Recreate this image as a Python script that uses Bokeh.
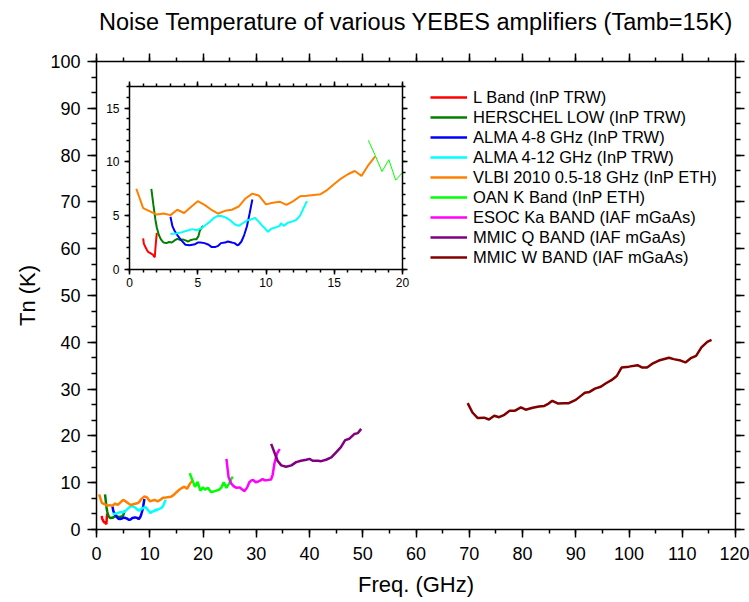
from bokeh.plotting import figure
from bokeh.models import Range1d, LinearAxis, SingleIntervalTicker, CustomLabelingPolicy
from bokeh.layouts import column
from bokeh.embed import file_html
from bokeh.resources import INLINE

FONT = "Liberation Sans"

title_text = "Noise Temperature of various YEBES amplifiers (Tamb=15K)"
x_label = "Freq. (GHz)"
y_label = "Tn (K)"

names = [
    "L Band (InP TRW)",
    "HERSCHEL LOW (InP TRW)",
    "ALMA 4-8 GHz (InP TRW)",
    "ALMA 4-12 GHz (InP TRW)",
    "VLBI 2010 0.5-18 GHz (InP ETH)",
    "OAN K Band (InP ETH)",
    "ESOC Ka BAND (IAF mGaAs)",
    "MMIC Q BAND (IAF mGaAs)",
    "MMIC W BAND (IAF mGaAs)",
]
colors = ["#FF0000", "#008000", "#0000FF", "#00FFFF", "#FF8000",
          "#00FF00", "#FF00FF", "#800080", "#800000"]

l_x = [1.0, 1.05, 1.12, 1.2, 1.3, 1.4, 1.5, 1.6, 1.7, 1.8, 1.85, 1.92, 2.0]
l_y = [2.9, 2.4, 2.2, 2.0, 1.75, 1.6, 1.55, 1.45, 1.4, 1.2, 1.15, 2.3, 3.4]

her_x = [1.6, 1.75, 1.9, 2.0, 2.15, 2.3, 2.5, 2.7, 2.9, 3.1, 3.3, 3.5, 3.7, 3.9,
         4.1, 4.3, 4.5, 4.7, 4.9, 5.05, 5.15, 5.3, 5.4]
her_y = [7.5, 6.0, 4.6, 3.9, 3.2, 2.8, 2.5, 2.45, 2.55, 2.5, 2.7, 2.85, 2.75, 2.8,
         2.7, 2.6, 2.75, 2.8, 2.8, 3.1, 3.6, 3.9, 4.05]

a48_x = [3.0, 3.15, 3.3, 3.5, 3.8, 4.1, 4.4, 4.8, 5.0, 5.2, 5.5, 5.8, 6.0, 6.3,
         6.5, 6.7, 7.0, 7.2, 7.5, 7.7, 7.9, 8.0, 8.2, 8.4, 8.6, 8.8, 9.0]
a48_y = [4.9, 4.0, 3.6, 3.2, 2.7, 2.3, 2.25, 2.35, 2.5, 2.5, 2.45, 2.3, 2.1, 2.1,
         2.2, 2.45, 2.5, 2.6, 2.5, 2.45, 2.25, 2.3, 2.6, 3.2, 4.0, 5.2, 6.5]

a412_x = [3.0, 3.4, 3.8, 4.2, 4.6, 4.9, 5.3, 5.6, 5.9, 6.2, 6.5, 6.8, 7.1, 7.4,
          7.7, 8.0, 8.3, 8.6, 8.9, 9.2, 9.5, 9.7, 9.9, 10.15, 10.4, 10.7, 11.0,
          11.1, 11.3, 11.6, 11.9, 12.2, 12.5, 12.75, 13.0]
a412_y = [3.3, 3.35, 3.45, 3.6, 3.75, 3.65, 3.85, 4.15, 4.45, 4.8, 5.0, 4.95, 4.8,
          4.55, 4.2, 4.05, 4.3, 4.55, 4.65, 4.8, 4.4, 4.1, 3.85, 3.5, 3.8, 3.9,
          4.05, 4.3, 4.05, 4.35, 4.45, 4.6, 5.0, 5.7, 6.35]

vlbi_x = [0.5, 1.0, 1.5, 2.0, 2.5, 3.0, 3.5, 4.0, 4.5, 5.0, 5.5, 6.0, 6.5, 7.0,
          7.5, 8.0, 8.5, 9.0, 9.5, 10.0, 10.5, 11.0, 11.5, 12.0, 12.5, 13.0,
          14.0, 14.5, 15.0, 15.5, 16.0, 16.5, 17.0, 17.5, 18.0]
vlbi_y = [7.5, 5.7, 5.4, 5.1, 5.2, 5.05, 5.55, 5.25, 5.8, 6.35, 6.0, 5.55, 5.2,
          5.45, 5.55, 5.85, 6.6, 7.05, 6.85, 6.05, 6.2, 6.3, 6.0, 6.35, 6.8,
          6.85, 7.0, 7.4, 7.95, 8.45, 8.85, 9.15, 8.7, 9.7, 10.5]

k_x = [17.5, 18.0, 18.5, 19.0, 19.5, 20.0, 20.4, 20.9, 21.5, 22.0, 22.5, 23.0,
       23.4, 23.9, 24.4, 24.9, 25.3, 25.6]
k_y = [12.0, 10.6, 9.1, 10.2, 8.3, 9.0, 8.5, 8.9, 8.0, 8.1, 8.3, 8.5, 8.9, 10.1,
       8.9, 9.8, 10.8, 11.3]

ka_x = [24.4, 24.8, 25.3, 25.8, 26.3, 26.9, 27.3, 27.8, 28.3, 28.7, 29.1, 29.4,
        29.9, 30.3, 30.8, 31.2, 31.6, 31.9, 32.3, 32.8, 33.1, 33.4, 33.7, 33.9,
        34.2, 34.4]
ka_y = [15.1, 11.2, 9.8, 9.2, 8.9, 9.0, 8.6, 8.2, 9.0, 10.1, 10.5, 10.6, 10.1,
        10.2, 10.5, 10.8, 10.5, 10.5, 10.6, 10.7, 11.8, 14.0, 15.4, 16.2, 16.8,
        17.2]

q_x = [32.8, 33.4, 34.0, 34.7, 35.6, 36.6, 37.5, 38.4, 39.4, 40.0, 40.6, 41.6,
       42.2, 43.1, 44.1, 45.0, 45.9, 46.7, 47.5, 48.4, 49.1, 49.7]
q_y = [18.3, 16.5, 14.7, 13.7, 13.4, 13.7, 14.4, 14.7, 14.9, 15.1, 14.7, 14.7,
       14.6, 14.9, 15.4, 16.5, 17.6, 19.1, 19.4, 20.4, 20.6, 21.5]

w_x = [69.7, 70.6, 71.6, 72.8, 73.7, 74.7, 75.6, 76.6, 77.6, 78.6, 79.7, 80.6,
       81.9, 83.1, 84.1, 84.9, 85.6, 86.7, 87.8, 88.7, 90.0, 90.9, 91.7, 92.6,
       93.6, 94.7, 95.6, 96.7, 97.7, 98.6, 100.0, 101.6, 102.5, 103.4, 104.5,
       105.6, 107.5, 108.4, 109.7, 110.6, 111.6, 112.6, 113.6, 114.7, 115.5]
w_y = [27.0, 25.0, 23.8, 23.9, 23.5, 24.3, 24.0, 24.5, 25.4, 25.4, 26.1, 25.6,
       26.0, 26.3, 26.4, 26.9, 27.5, 26.9, 27.0, 27.0, 27.7, 28.5, 29.2, 29.4,
       30.1, 30.5, 31.2, 31.9, 32.8, 34.6, 34.8, 35.1, 34.6, 34.6, 35.5, 36.1,
       36.7, 36.4, 36.1, 35.7, 36.6, 37.1, 38.9, 40.1, 40.5]

series = [(l_x, l_y), (her_x, her_y), (a48_x, a48_y), (a412_x, a412_y),
          (vlbi_x, vlbi_y), (k_x, k_y), (ka_x, ka_y), (q_x, q_y), (w_x, w_y)]

NO_LABELS = """
for (const i of Array.from(indices)) { indices.unset(i) }
return indices
"""


def style_axis(ax, font_size, tick_out, minor_out, standoff, hide_labels=False):
    ax.axis_line_width = 1.5
    ax.axis_line_color = "black"
    ax.major_tick_line_width = 1.5
    ax.minor_tick_line_width = 1.5
    ax.major_tick_line_color = "black"
    ax.minor_tick_line_color = "black"
    ax.major_tick_in = 0
    ax.major_tick_out = tick_out
    ax.minor_tick_in = 0
    ax.minor_tick_out = minor_out
    ax.major_label_text_font = FONT
    ax.major_label_text_color = "black"
    ax.major_label_standoff = standoff
    if hide_labels:
        ax.major_label_text_font_size = "1px"
        ax.major_label_policy = CustomLabelingPolicy(code=NO_LABELS)
    else:
        ax.major_label_text_font_size = font_size


# ---------------- main figure ----------------
p = figure(width=749, height=602, x_range=Range1d(0, 120), y_range=Range1d(0, 100),
           output_backend="svg", toolbar_location=None,
           min_border_left=96, min_border_right=13, min_border_top=61,
           min_border_bottom=73)
p.grid.visible = False
p.outline_line_color = None
p.background_fill_color = "white"
p.border_fill_color = "white"

p.xaxis.ticker = SingleIntervalTicker(interval=10, num_minor_ticks=2)
p.yaxis.ticker = SingleIntervalTicker(interval=10, num_minor_ticks=3)
for ax in p.xaxis:
    style_axis(ax, "18px", 8, 4, 9)
    ax.axis_label = x_label
    ax.axis_label_standoff = 9
for ax in p.yaxis:
    style_axis(ax, "18px", 9, 5, 7)
    ax.axis_label = y_label
    ax.axis_label_standoff = 7
for ax in list(p.xaxis) + list(p.yaxis):
    ax.axis_label_text_font = FONT
    ax.axis_label_text_font_size = "22px"
    ax.axis_label_text_font_style = "normal"
    ax.axis_label_text_color = "black"

# top axis: the (hidden) label standoff leaves room that lifts the title up
top = LinearAxis(ticker=SingleIntervalTicker(interval=10, num_minor_ticks=2))
style_axis(top, "18px", 8, 4, 15, hide_labels=True)
p.add_layout(top, "above")
right = LinearAxis(ticker=SingleIntervalTicker(interval=10, num_minor_ticks=3))
style_axis(right, "18px", 9, 5, 0, hide_labels=True)
p.add_layout(right, "right")

p.title.text = title_text
p.title.align = "center"
p.title.text_font = FONT
p.title.text_font_size = "23.5px"
p.title.text_font_style = "normal"
p.title.text_color = "black"
p.title.standoff = 0

for (xs, ys), name, col in zip(series, names, colors):
    p.line(xs, ys, line_color=col, line_width=2.5, legend_label=name)

lg = p.legend[0]
lg.location = (334, 262)
lg.border_line_color = None
lg.background_fill_alpha = 0
lg.padding = 0
lg.margin = 0
lg.spacing = 0
lg.glyph_width = 37
lg.glyph_height = 20
lg.label_height = 20
lg.label_standoff = 6
lg.label_text_font = FONT
lg.label_text_font_size = "16.5px"
lg.label_text_color = "black"

# ---------------- inset figure ----------------
# The column aligns the left/right borders of its plots with the main figure
# (96 px / 13 px), so the inset box is offset accordingly.
q = figure(width=383, height=214, x_range=Range1d(0, 20), y_range=Range1d(0, 17),
           output_backend="svg", toolbar_location=None,
           min_border_left=96, min_border_right=13, min_border_top=8,
           min_border_bottom=22)
q.grid.visible = False
q.outline_line_color = None
q.background_fill_color = "white"
q.border_fill_alpha = 0
q.xaxis.ticker = SingleIntervalTicker(interval=5, num_minor_ticks=5)
q.yaxis.ticker = SingleIntervalTicker(interval=5, num_minor_ticks=5)
for ax in q.xaxis:
    style_axis(ax, "12px", 5, 3, 3)
for ax in q.yaxis:
    style_axis(ax, "12px", 5, 3, 5)
qtop = LinearAxis(ticker=SingleIntervalTicker(interval=5, num_minor_ticks=5))
style_axis(qtop, "12px", 5, 3, 0, hide_labels=True)
q.add_layout(qtop, "above")
qright = LinearAxis(ticker=SingleIntervalTicker(interval=5, num_minor_ticks=5))
style_axis(qright, "12px", 5, 3, 0, hide_labels=True)
q.add_layout(qright, "right")

for i, ((xs, ys), col) in enumerate(zip(series[:6], colors[:6])):
    q.line(xs, ys, line_color=col, line_width=1.0 if i == 5 else 2.0)

q.styles = {"position": "absolute", "left": "33px", "top": "77px", "z-index": "10"}

layout = column(p, q)
open("out.html", "w").write(file_html(layout, INLINE))
